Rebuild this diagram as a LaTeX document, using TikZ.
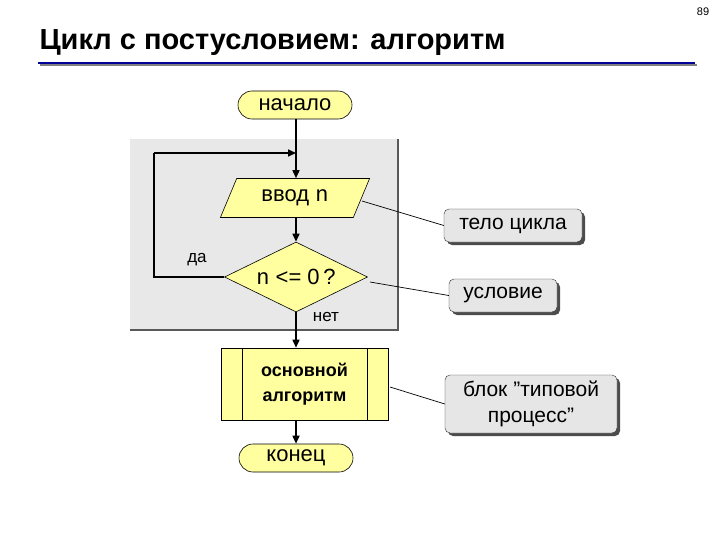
\documentclass[tikz,border=0pt]{standalone}
\usepackage{fontspec}
\setmainfont{Liberation Sans}
\setmonofont{Liberation Mono}
\usetikzlibrary{shapes.geometric,shapes.misc,arrows.meta}
\definecolor{yel}{RGB}{255,255,160}
\definecolor{bg}{RGB}{232,232,232}
\definecolor{cal}{RGB}{230,230,230}
\definecolor{ttl}{RGB}{0,0,150}
\begin{document}
\begin{tikzpicture}[x=1pt,y=-1pt,
  blk/.style={draw=black,fill=yel,line width=0.6pt,font=\fontsize{22}{24}\selectfont,inner sep=0pt},
  term/.style={blk,rounded rectangle,minimum width=114pt,minimum height=28pt},
  call/.style={draw=black!80,fill=cal,rounded corners=5pt,font=\fontsize{21}{26}\selectfont,align=center,inner sep=0pt},
  line/.style={line width=1.6pt},
  arr/.style={line,-{Triangle[length=8pt,width=7pt]}},
  lbl/.style={font=\fontsize{17}{19}\selectfont}]
\useasboundingbox (0,0) rectangle (720,540);
\node[font=\fontsize{11}{13}\selectfont] (pg) at (703,12) {89};
\node[anchor=base west,font=\bfseries\fontsize{29}{33}\selectfont] (title) at (36,50) {Цикл с постусловием: алгоритм};
\draw[gray,line width=1.5pt] (40,65) -- (697,65);
\draw[ttl,line width=2pt] (38,63) -- (695,63);
% gray area
\fill[bg] (130,139) rectangle (398,330);
\draw[black!65,line width=1.5pt] (398,139) -- (398,330) -- (130,330);
% nodes
\node[term] (start) at (295,105) {начало};
\node[blk,trapezium,trapezium left angle=60,trapezium right angle=120,minimum width=150pt,minimum height=39pt,trapezium stretches=true] (in) at (295,198) {ввод \texttt{n}};
\node[blk,diamond,minimum width=143pt,minimum height=70pt,aspect=2] (cond) at (296,277) {\texttt{n} <= 0\,?};
\node[blk,minimum width=167pt,minimum height=72pt,align=center,font=\bfseries\fontsize{18}{25}\selectfont] (proc) at (304.5,384) {основной\\алгоритм};
\draw[line width=0.6pt] (242,348) -- (242,420) (367,348) -- (367,420);
\node[term] (end) at (296,458) {конец};
\coordinate (j) at (296,153);
\coordinate (lb) at (154,277);
\coordinate (lt) at (154,153);
\draw[arr] (start.south -| j) -- (in.north -| j);
\draw[arr] (lt) -- (j);
\draw[line] (cond.west) -- (lb) -- (lt);
\draw[arr] (in.south -| j) -- (cond);
\draw[arr] (cond.south) -- (proc.north -| cond.south);
\draw[arr] (proc.south -| end.north) -- (end);
\node[lbl] (da) at (197,260) {да};
\node[lbl] (net) at (326,317) {нет};
% callouts
\fill[black!70,rounded corners=5pt] (447,212) rectangle (585,245);
\node[call,minimum width=138pt,minimum height=33pt] (c1) at (513,225.5) {тело цикла};
\fill[black!70,rounded corners=5pt] (452,282) rectangle (560,315);
\node[call,minimum width=108pt,minimum height=33pt] (c2) at (503,295.5) {условие};
\fill[black!70,rounded corners=5pt] (448,378) rectangle (620,436);
\node[call,minimum width=172pt,minimum height=58pt] (c3) at (531,404) {блок \symbol{34}типовой\\процесс\symbol{34}};
\coordinate (p1) at (362,201);
\coordinate (p2) at (370,282);
\coordinate (p3) at (390,387);
\draw[black,line width=0.7pt] (p1) -- (c1.west);
\draw[black,line width=0.7pt] (p2) -- (c2.west);
\draw[black,line width=0.7pt] (p3) -- (c3.west);
\end{tikzpicture}
\end{document}
